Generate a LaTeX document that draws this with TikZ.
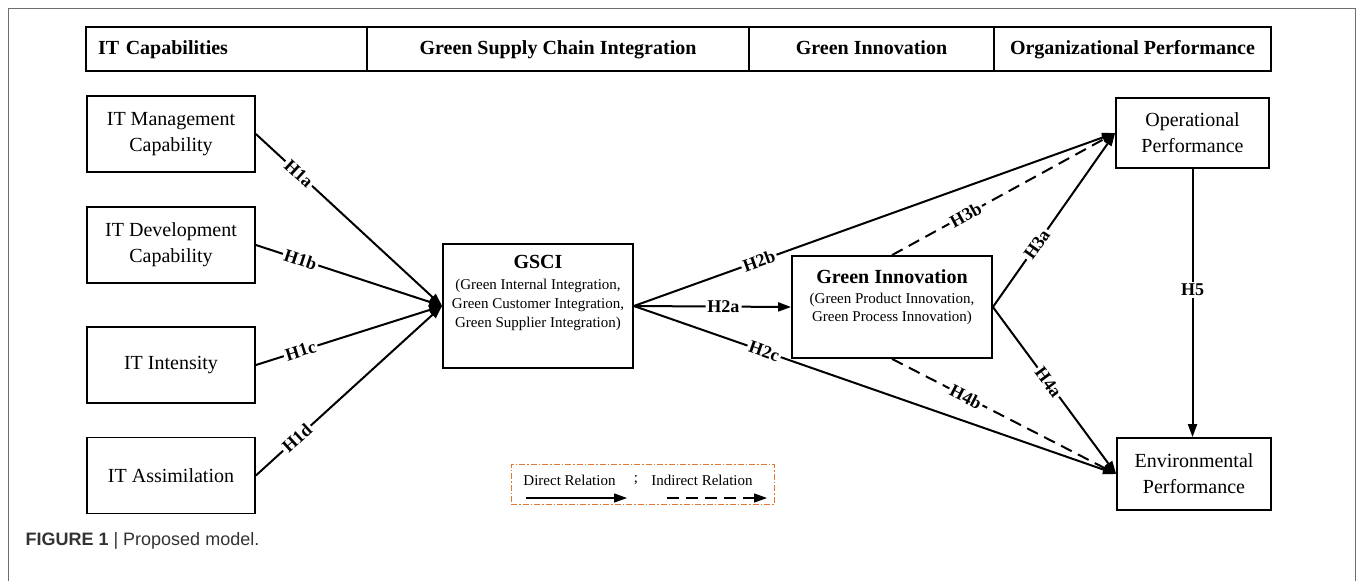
\documentclass[tikz,border=0pt]{standalone}
\usepackage{fontspec}
\setmainfont{Liberation Serif}
\newfontfamily\capfont{Liberation Sans}
\usetikzlibrary{arrows.meta}
\definecolor{legorange}{RGB}{222,120,50}
\definecolor{framegray}{RGB}{110,110,110}

\begin{document}
\begin{tikzpicture}[x=1pt,y=-1pt,
		bigbox/.style={draw, line width=1.8pt, inner sep=0pt},
		box/.style={bigbox, align=center, font=\fontsize{20}{26}\selectfont},
		head/.style={draw, line width=1.3pt, minimum height=44pt, inner sep=0pt, text height=14pt, text depth=4pt, font=\bfseries\fontsize{20}{24}\selectfont},
		arr/.style={line width=2pt, -{Triangle[length=13pt,width=9pt]}},
		dsh/.style={arr, dash pattern=on 12pt off 7pt},
		hyp/.style={fill=white, sloped, inner sep=2pt, font=\bfseries\fontsize{18}{20}\selectfont},
		legtext/.style={font=\fontsize{15}{18}\selectfont, inner sep=0pt}]
		\useasboundingbox (0,0) rectangle (1357,581);

		%Marco
		\draw [framegray, line width=1pt] (8,581)--(8,8)--(1355,8)--(1355,581);

		%Encabezado
		\node [head, minimum width=281pt, text width=257pt, align=left] (hit) at (226.5,49) {IT Capabilities};
		\node [head, minimum width=382pt] (hgsci) at (558,49) {Green Supply Chain Integration};
		\node [head, minimum width=245pt] (hgi) at (871.5,49) {Green Innovation};
		\node [head, minimum width=277pt] (hop) at (1132.5,49) {Organizational Performance};

		%IT
		\node [box, minimum width=168pt, minimum height=76pt] (mgmt) at (171,134) {IT Management\\Capability};
		\node [box, minimum width=168pt, minimum height=76pt] (dev) at (171,245) {IT Development\\Capability};
		\node [box, minimum width=168pt, minimum height=76pt] (inten) at (171,365) {IT Intensity};
		\node [box, minimum width=168pt, minimum height=76pt] (assim) at (171,475.5) {IT Assimilation};

		%GSCI y GI
		\node [bigbox, minimum width=190pt] (gsci) at (538,306) {\parbox[c][124pt][t]{186pt}{\centering\vspace*{11pt}{\bfseries\fontsize{20}{24}\selectfont GSCI}\\[2pt]\fontsize{15}{19}\selectfont (Green Internal Integration,\\Green Customer Integration,\\Green Supplier Integration)}};
		\node [bigbox, minimum width=200pt] (gi) at (892,307) {\parbox[c][102pt][t]{196pt}{\centering\vspace*{14pt}{\bfseries\fontsize{20}{24}\selectfont Green Innovation}\\[2pt]\fontsize{15}{18}\selectfont (Green Product Innovation,\\Green Process Innovation)}};

		%Desempeno
		\node [box, minimum width=153pt, minimum height=70pt] (op) at (1192.5,133) {Operational\\Performance};
		\node [box, minimum width=154pt, minimum height=72pt] (env) at (1194,474) {Environmental\\Performance};

		%Hipotesis
		\draw [arr] (mgmt.east) -- node[hyp, pos=.23] {H1a} (gsci.west);
		\draw [arr] (dev.east) -- node[hyp, pos=.24] {H1b} (gsci.west);
		\draw [arr] (inten.east) -- node[hyp, pos=.24] {H1c} (gsci.west);
		\draw [arr] (assim.east) -- node[hyp, pos=.22] {H1d} (gsci.west);
		\draw [arr] (gsci.east) -- node[hyp, pos=.26] {H2b} (op.west);
		\draw [arr] (gsci.east) -- node[hyp, pos=.57] {H2a} (gi.west);
		\draw [arr] (gsci.east) -- node[hyp, pos=.27] {H2c} (env.west);
		\draw [dsh] (gi.north) -- node[hyp, pos=.33] {H3b} (op.west);
		\draw [arr] (gi.east) -- node[hyp, pos=.36] {H3a} (op.west);
		\draw [arr] (gi.east) -- node[hyp, pos=.45] {H4a} (env.west);
		\draw [dsh] (gi.south) -- node[hyp, pos=.33] {H4b} (env.west);
		\draw [arr] (op.south) -- node[hyp, sloped=false, pos=.45] {H5} (op.south |- env.north);

		%Leyenda
		\node [draw=legorange, line width=1pt, dash pattern=on 6pt off 2pt on 1.5pt off 2pt, minimum width=263pt, minimum height=40pt] (legend) at (642.5,484) {};
		\node [legtext] (ldir) at (569.5,480) {Direct Relation};
		\node [legtext] (lsemi) at (636,480) {;};
		\node [legtext] (lind) at (702,480) {Indirect Relation};
		\coordinate (ds) at (526,498);
		\coordinate (de) at (627,498);
		\coordinate (is) at (667,498);
		\coordinate (ie) at (767,498);
		\draw [arr, line width=1.3pt] (ds) -- (de);
		\draw [dsh, line width=1.3pt] (is) -- (ie);

		%Titulo
		\node [anchor=west, font=\capfont\fontsize{18}{20}\selectfont, text=black!80] (cap) at (22,541) {\textbf{FIGURE 1} | Proposed model.};
	\end{tikzpicture}
\end{document}
